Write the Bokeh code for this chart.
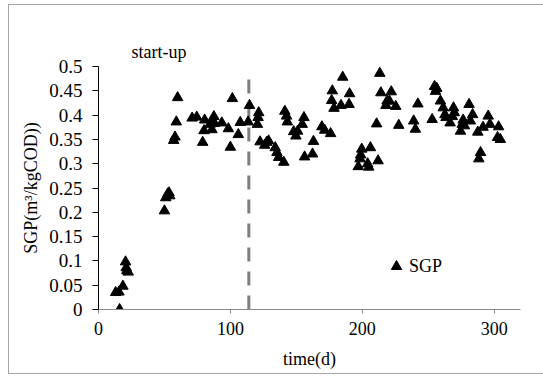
from bokeh.plotting import figure
from bokeh.models import (Range1d, FixedTicker, Legend, LegendItem,
                          ColumnDataSource)
from bokeh.embed import file_html
from bokeh.resources import INLINE

# ---- data ----
time_d = [13, 15.5, 16, 18.5, 20.5, 21, 21.5, 22.5,
          50, 51, 52.5, 53.5, 54,
          57, 58, 59, 60,
          71, 74.5, 79, 80, 80.5, 84.5, 86, 86.5, 87.5, 88,
          93.5, 98.5, 100, 101.5, 106, 107.5, 113.5, 114.5,
          120.5, 121, 121.5, 122.5, 126, 127.5, 129,
          134, 135.3, 136.6, 140.5, 141.3, 142.6, 143.2,
          148, 149.7, 151, 154.5, 155.8, 156.3, 162.3, 163,
          169.4, 171.5, 176, 176.8, 177.3, 178.6, 183.9, 185.2,
          190, 190.4, 197, 198.3, 198.8, 199.6, 204.1, 204.9, 206.2,
          210.9, 212, 213.3, 214.1, 218, 218.8, 220.6, 222, 225.4, 227.7,
          239, 240.3, 242.2, 253, 254.8, 255.6, 256.5,
          259.3, 261.4, 262.7, 263.5, 266.6, 268.3, 269.2, 269.8,
          274.5, 275.8, 276.5, 277.5, 281, 282, 283.7,
          287.6, 288.4, 289.7, 291.6, 295.5, 296.8,
          302.6, 303.4, 304.7]
sgp = [0.035, 0.036, 0.0, 0.048, 0.098, 0.086, 0.080, 0.077,
       0.203, 0.230, 0.238, 0.240, 0.234,
       0.348, 0.355, 0.386, 0.436,
       0.394, 0.396, 0.344, 0.368, 0.390, 0.381, 0.370, 0.386, 0.397, 0.383,
       0.384, 0.372, 0.334, 0.434, 0.360, 0.385, 0.386, 0.420,
       0.381, 0.395, 0.405, 0.345, 0.338, 0.344, 0.347,
       0.333, 0.323, 0.313, 0.303, 0.408, 0.398, 0.386,
       0.366, 0.357, 0.367, 0.381, 0.395, 0.314, 0.320, 0.346,
       0.376, 0.369, 0.362, 0.430, 0.450, 0.414, 0.420, 0.478,
       0.422, 0.444, 0.294, 0.310, 0.318, 0.330, 0.300, 0.293, 0.333,
       0.382, 0.306, 0.486, 0.446, 0.420, 0.429, 0.429, 0.448, 0.418, 0.379,
       0.388, 0.371, 0.423, 0.391, 0.459, 0.449, 0.455,
       0.429, 0.415, 0.401, 0.395, 0.384, 0.397, 0.415, 0.405,
       0.367, 0.381, 0.390, 0.378, 0.422, 0.388, 0.401,
       0.365, 0.310, 0.323, 0.375, 0.398, 0.381,
       0.354, 0.376, 0.350]

startup_day = [114]
startup_line_y = [0.0, 0.477]

x_ticks = [0, 100, 200, 300]
x_tick_labels = ["0", "100", "200", "300"]
y_ticks = [0, 0.05, 0.1, 0.15, 0.2, 0.25, 0.3, 0.35, 0.4, 0.45, 0.5]
y_tick_labels = ["0", "0.05", "0.1", "0.15", "0.2", "0.25", "0.3", "0.35",
                 "0.4", "0.45", "0.5"]

FONT = "Liberation Serif"
BORDER = "#a6a6a6"

p = figure(frame_width=422, frame_height=243,
           min_border_left=98, min_border_right=23,
           min_border_top=66, min_border_bottom=67,
           x_range=Range1d(0, 320), y_range=Range1d(0, 0.5),
           output_backend="svg", toolbar_location=None)
p.outline_line_color = None
p.grid.visible = False
p.background_fill_color = None
p.border_fill_color = None
# thin grey chart border drawn behind the transparent canvas
p.styles = {
    "background-color": "white",
    "background-image": ("linear-gradient(%s,%s), linear-gradient(%s,%s), "
                         "linear-gradient(%s,%s)") % ((BORDER,) * 6),
    "background-size": "1px 370px, 540px 1px, 540px 1px",
    "background-position": "8px 4px, 8px 4px, 8px 373px",
    "background-repeat": "no-repeat",
}

# title used as the "start-up" note above the plot area
p.title.text = "start-up"
p.title.text_font = FONT
p.title.text_font_size = "18px"
p.title.text_font_style = "normal"
p.title.text_color = "black"
p.title.align = "left"
p.title.offset = 33
p.title.standoff = 10

# axes
p.xaxis.ticker = FixedTicker(ticks=x_ticks)
p.xaxis.major_label_overrides = dict(zip(x_ticks, x_tick_labels))
p.yaxis.ticker = FixedTicker(ticks=y_ticks)
p.yaxis.major_label_overrides = dict(zip(y_ticks, y_tick_labels))
for ax in (p.xaxis[0], p.yaxis[0]):
    ax.minor_tick_line_color = None
    ax.major_tick_in = 0
    ax.major_label_text_font = FONT
    ax.major_label_text_font_size = "18px"
    ax.major_label_text_color = "black"
    ax.axis_label_text_font = FONT
    ax.axis_label_text_font_size = "18px"
    ax.axis_label_text_font_style = "normal"
    ax.axis_label_text_color = "black"

p.xaxis.axis_line_color = "#8a8a8a"
p.xaxis.major_tick_line_color = "#8a8a8a"
p.xaxis.major_tick_out = 4
p.xaxis.major_label_standoff = 8
p.xaxis.axis_label = "time(d)"
p.xaxis.axis_label_standoff = 11

p.yaxis.axis_line_color = "black"
p.yaxis.major_tick_line_color = "black"
p.yaxis.major_tick_out = 6
p.yaxis.major_label_standoff = 10
p.yaxis.major_label_text_font_size = "19px"
p.yaxis.axis_label = "SGP(m\u00b3/kgCOD))"
p.yaxis.axis_label_standoff = 5

# start-up dashed line
p.line(x=startup_day * 2, y=startup_line_y, line_color="#7f7f7f",
       line_width=3, line_dash="14 10")

# data
src = ColumnDataSource(dict(x=time_d, y=sgp))
r = p.scatter("x", "y", source=src, marker="triangle", size=10.5,
              fill_color="black", line_color="black", line_width=1)

legend = Legend(items=[LegendItem(label="SGP", renderers=[r])],
                location=(285, 30), padding=0, margin=0, spacing=0,
                glyph_width=26, glyph_height=26, label_standoff=0,
                label_height=26, label_text_font=FONT,
                label_text_font_size="18px", label_text_color="black",
                border_line_alpha=0, background_fill_alpha=0)
p.add_layout(legend)

open("out.html", "w").write(file_html(p, INLINE))
